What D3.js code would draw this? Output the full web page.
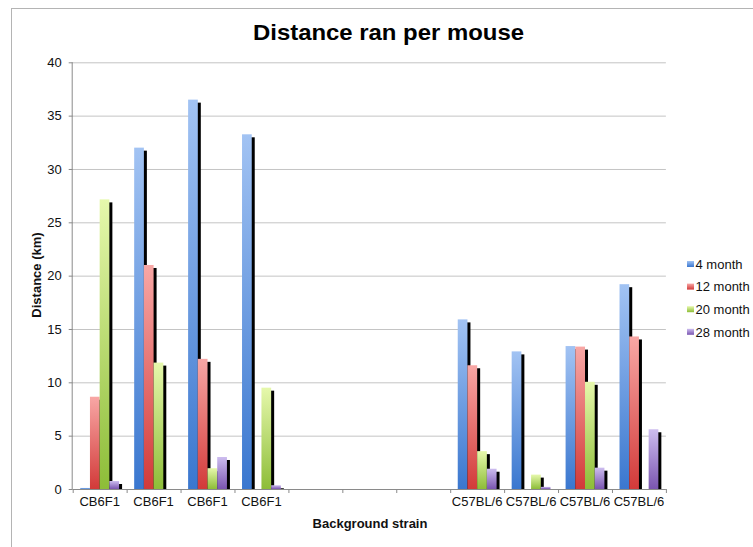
<!DOCTYPE html>
<html><head><meta charset="utf-8">
<script src="https://cdn.jsdelivr.net/npm/d3@7"></script>
<style>body{margin:0;background:#fff}svg{display:block;font-family:"Liberation Sans",Arial,sans-serif}</style>
</head><body><svg id="c" width="753" height="547"></svg>
<script>
const categories = ["CB6F1","CB6F1","CB6F1","CB6F1","","","","C57BL/6","C57BL/6","C57BL/6","C57BL/6"];
const seriesNames = ["4 month","12 month","20 month","28 month"];
const month4  = [0.1, 32.0, 36.5, 33.25, null, null, null, 15.9, 12.9, 13.4, 19.2];
const month12 = [8.65, 21.0, 12.2, 0, null, null, null, 11.6, 0, 13.35, 14.3];
const month20 = [27.15, 11.85, 1.95, 9.5, null, null, null, 3.55, 1.35, 10.05, 0];
const month28 = [0.75, 0, 3.0, 0.35, null, null, null, 1.9, 0.2, 2.0, 5.6];
const yTicks = [0, 5, 10, 15, 20, 25, 30, 35, 40];
const seriesValues = [month4, month12, month20, month28];
const colorsTop = ["#a2c3f3", "#f8a7a5", "#e6f8ac", "#cdbdef"];
const colorsBottom = ["#3a77cf", "#d23a39", "#8dbd38", "#7a55b0"];

const svg = d3.select("#c");
const L = 72.7, R = 665.9, T = 62.3, B = 489;

// outer border
svg.append("rect").attr("x", 11.5).attr("y", 8.5).attr("width", 800).attr("height", 600)
  .attr("fill", "none").attr("stroke", "#b4b4b4").attr("stroke-width", 1);

const defs = svg.append("defs");
seriesNames.forEach((s, i) => {
  const g = defs.append("linearGradient").attr("id", "g" + i).attr("x1", 0).attr("y1", 0).attr("x2", 0).attr("y2", 1);
  g.append("stop").attr("offset", "0%").attr("stop-color", colorsTop[i]);
  g.append("stop").attr("offset", "100%").attr("stop-color", colorsBottom[i]);
});

const x = d3.scaleBand().domain(d3.range(categories.length)).range([L, R]).padding(0);
const xs = d3.scaleBand().domain(d3.range(seriesNames.length)).range([x.bandwidth() * 0.14, x.bandwidth() * 0.86]).padding(0);
const y = d3.scaleLinear().domain([0, 40]).range([B, T]);

// gridlines
svg.append("g").attr("transform", `translate(${L},0)`)
  .call(d3.axisLeft(y).tickValues(yTicks.filter(v => v > 0)).tickSize(-(R - L)).tickFormat(""))
  .call(g => g.select(".domain").remove())
  .call(g => g.selectAll("line").attr("stroke", "#c4c4c4"));

// bars
seriesValues.forEach((vals, si) => {
  const g = svg.append("g");
  vals.forEach((v, ci) => {
    if (v == null || v <= 0) return;
    const bx = x(ci) + xs(si), bw = xs.bandwidth();
    const top = y(v), h = y(0) - y(v);
    const sh = Math.max(0, h - 3);
    if (sh > 0) g.append("rect").attr("x", bx + 3).attr("y", top + 3).attr("width", bw).attr("height", sh).attr("fill", "#000");
    g.append("rect").attr("x", bx).attr("y", top).attr("width", bw).attr("height", Math.max(h, 1)).attr("fill", `url(#g${si})`);
  });
});

// y axis
svg.append("g").attr("transform", `translate(${L},0)`)
  .call(d3.axisLeft(y).tickValues(yTicks).tickSize(4).tickPadding(7).tickFormat(d3.format("d")))
  .call(g => g.select(".domain").attr("stroke", "#8a8a8a").attr("d", `M-0.5,${T}V${B}`))
  .call(g => g.selectAll("line").attr("stroke", "#8a8a8a"))
  .call(g => g.selectAll("text").attr("font-size", 13).attr("fill", "#111").attr("font-family", "Liberation Sans, Arial, sans-serif"));

// x axis: boundary ticks
const xb = d3.scaleLinear().domain([0, categories.length]).range([L, R]);
svg.append("g").attr("transform", `translate(0,${B})`)
  .call(d3.axisBottom(xb).ticks(categories.length).tickSize(4).tickFormat(""))
  .call(g => g.select(".domain").attr("stroke", "#8a8a8a").attr("d", `M${L},0.5H${R}`))
  .call(g => g.selectAll("line").attr("stroke", "#8a8a8a"));

// x axis labels
svg.append("g").attr("transform", `translate(0,${B})`)
  .call(d3.axisBottom(x).tickSize(0).tickPadding(8).tickFormat(i => categories[i]))
  .call(g => g.select(".domain").remove())
  .call(g => g.selectAll("text").attr("font-size", 13).attr("fill", "#111").attr("font-family", "Liberation Sans, Arial, sans-serif"));

// titles
svg.append("text").attr("x", 388.5).attr("y", 40).attr("text-anchor", "middle")
  .attr("font-size", 22).attr("font-weight", "bold").attr("fill", "#000")
  .attr("textLength", 271).attr("lengthAdjust", "spacingAndGlyphs")
  .text("Distance ran per mouse");
svg.append("text").attr("x", 370).attr("y", 528).attr("text-anchor", "middle")
  .attr("font-size", 13).attr("font-weight", "bold").attr("fill", "#111")
  .text("Background strain");
svg.append("text").attr("transform", "translate(41,275) rotate(-90)").attr("text-anchor", "middle")
  .attr("font-size", 13).attr("font-weight", "bold").attr("fill", "#111")
  .text("Distance (km)");

// legend
const leg = svg.append("g");
seriesNames.forEach((s, i) => {
  const cy = 264 + i * 22.6;
  leg.append("rect").attr("x", 687).attr("y", cy - 3).attr("width", 7).attr("height", 6).attr("fill", `url(#g${i})`);
  leg.append("text").attr("x", 695.5).attr("y", cy + 4.7).attr("font-size", 13).attr("fill", "#111").text(s);
});
</script></body></html>
